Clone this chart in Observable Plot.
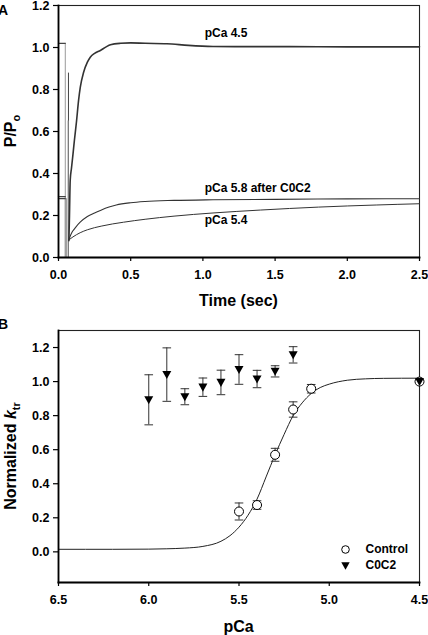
<!DOCTYPE html>
<html>
<head>
<meta charset="utf-8">
<script src="https://cdn.jsdelivr.net/npm/d3@7"></script>
<script src="https://cdn.jsdelivr.net/npm/@observablehq/plot@0.6"></script>
<style>
  html, body { margin: 0; padding: 0; background: #fff; }
  #chart svg { display: block; }
</style>
</head>
<body>
<div id="chart"></div>
<script>
// ---------- Panel A: force redevelopment traces ----------
const plateauTime = [0, 0.047];
const plateau45 = [1.02, 1.02];
const plateau58 = [0.29, 0.29];
const plateau54 = [0.28, 0.28];

const time45 = [0.072, 0.076, 0.081, 0.09, 0.1, 0.11, 0.125, 0.139, 0.151, 0.174, 0.2, 0.22, 0.25, 0.29, 0.33, 0.36, 0.43, 0.5, 0.6, 0.75, 0.9, 1.07, 1.3, 1.6, 2.0, 2.5];
const p45    = [0.08, 0.2, 0.367, 0.426, 0.49, 0.557, 0.65, 0.748, 0.811, 0.882, 0.93, 0.954, 0.972, 0.986, 1.003, 1.013, 1.02, 1.022, 1.02, 1.018, 1.01, 1.005, 1.004, 1.004, 1.003, 1.003];

const time58 = [0.072, 0.08, 0.09, 0.1, 0.12, 0.15, 0.2, 0.25, 0.29, 0.35, 0.4, 0.5, 0.6, 0.8, 1.07, 1.5, 2.0, 2.5];
const p58    = [0.084, 0.1, 0.115, 0.127, 0.145, 0.168, 0.195, 0.212, 0.224, 0.24, 0.25, 0.261, 0.267, 0.272, 0.275, 0.277, 0.279, 0.28];

const time54 = [0.072, 0.08, 0.1, 0.15, 0.2, 0.3, 0.45, 0.6, 0.8, 1.07, 1.4, 1.8, 2.2, 2.5];
const p54    = [0.084, 0.088, 0.098, 0.118, 0.132, 0.15, 0.168, 0.182, 0.197, 0.212, 0.226, 0.24, 0.25, 0.256];

// release (drop to zero) and re-stretch transients
const releaseTime = [0.047, 0.047, 0.056];
const releaseTop  = [1.02, 0.29, 0.28];
const spikeTime   = [0.069, 0.066];
const spikeTop    = [0.878, 0.65];

const traceLabels = ["pCa 4.5", "pCa 5.8 after C0C2", "pCa 5.4"];
const labelTime   = [1.012, 1.012, 1.012];
const labelP      = [1.066, 0.332, 0.178];

const xTicksA = [0, 0.5, 1.0, 1.5, 2.0, 2.5];
const yTicksA = [0, 0.2, 0.4, 0.6, 0.8, 1.0, 1.2];

// ---------- Panel B: normalized ktr vs pCa ----------
const pCaControl = [5.5, 5.4, 5.3, 5.2, 5.1, 4.5];
const ktrControl = [0.237, 0.275, 0.57, 0.836, 0.958, 1.0];
const semControl = [0.05, 0.025, 0.038, 0.045, 0.025, 0];

const pCaC0C2 = [6.0, 5.9, 5.8, 5.7, 5.6, 5.5, 5.4, 5.3, 5.2, 4.5];
const ktrC0C2 = [0.893, 1.041, 0.911, 0.967, 0.995, 1.071, 1.015, 1.06, 1.157, 1.0];
const semC0C2 = [0.147, 0.157, 0.047, 0.054, 0.072, 0.087, 0.051, 0.033, 0.048, 0];

const fitPCa = [6.5, 6.2, 6.0, 5.9, 5.8, 5.7, 5.6, 5.55, 5.5, 5.45, 5.4, 5.35, 5.3, 5.25, 5.2, 5.15, 5.1, 5.05, 5.0, 4.9, 4.8, 4.7, 4.5];
const fitKtr = [0.015, 0.015, 0.016, 0.018, 0.022, 0.032, 0.062, 0.095, 0.145, 0.215, 0.31, 0.44, 0.57, 0.69, 0.80, 0.875, 0.93, 0.965, 0.985, 1.008, 1.016, 1.019, 1.02];

const xTicksB = [6.5, 6.0, 5.5, 5.0, 4.5];
const yTicksB = [0, 0.2, 0.4, 0.6, 0.8, 1.0, 1.2];
const legendNames = ["Control", "C0C2"];

// ---------- helpers ----------
const FONT = "'Liberation Sans', Arial, Helvetica, sans-serif";
const baseStyle = {fontFamily: FONT, fontSize: "12.5px", fontWeight: "bold", color: "#000", background: "#fff", overflow: "visible"};
const fmt1 = d3.format(".1f");

const zipXY = (xs, ys) => xs.map((x, i) => ({x, y: ys[i]}));
const plateaus = [
  ...zipXY(plateauTime, plateau45).map(d => ({...d, k: "45"})),
  ...zipXY(plateauTime, plateau58).map(d => ({...d, k: "58"})),
  ...zipXY(plateauTime, plateau54).map(d => ({...d, k: "54"}))
];
const tr45 = zipXY(time45, p45);
const tr58 = zipXY(time58, p58);
const tr54 = zipXY(time54, p54);
const releases = releaseTime.map((t, i) => ({t, top: releaseTop[i]}));
const spikes = spikeTime.map((t, i) => ({t, top: spikeTop[i], c: i === 0 ? "#444" : "#aaa"}));
const labelsA = traceLabels.map((s, i) => ({s, x: labelTime[i], y: labelP[i]}));

const capSymbol = {
  draw(ctx, size) {
    const w = Math.sqrt(size / Math.PI);
    ctx.moveTo(-w, 0); ctx.lineTo(w, 0);
  }
};
const downTriangle = {
  draw(ctx, size) {
    const r = Math.sqrt(size / Math.PI);
    ctx.moveTo(-r, -0.8 * r);
    ctx.lineTo(r, -0.8 * r);
    ctx.lineTo(0, r);
    ctx.closePath();
  }
};

// ---------- Panel A ----------
const chartA = Plot.plot({
  width: 428, height: 310,
  marginTop: 5, marginRight: 9, marginBottom: 53, marginLeft: 58,
  style: baseStyle,
  x: {domain: [0, 2.5], label: null},
  y: {domain: [0, 1.2], label: null},
  marks: [
    Plot.frame({stroke: "#222", strokeWidth: 1.1}),
    Plot.ruleX(releases, {x: "t", y1: 0, y2: "top", stroke: "#9a9a9a", strokeWidth: 1}),
    Plot.ruleX(spikes, {x: "t", y1: 0, y2: "top", stroke: "c", strokeWidth: 1}),
    Plot.line(plateaus, {x: "x", y: "y", z: "k", stroke: "#444", strokeWidth: 1.2}),
    Plot.line(tr54, {x: "x", y: "y", stroke: "#333", strokeWidth: 1, curve: "monotone-x"}),
    Plot.line(tr58, {x: "x", y: "y", stroke: "#333", strokeWidth: 1.1, curve: "monotone-x"}),
    Plot.line(tr45, {x: "x", y: "y", stroke: "#333", strokeWidth: 1.6, curve: "monotone-x"}),
    Plot.text(labelsA, {x: "x", y: "y", text: "s", textAnchor: "start", lineAnchor: "middle", fontSize: 12, fill: "#000"}),
    Plot.axisX(xTicksA, {tickSize: 4, tickPadding: 9, tickFormat: fmt1, label: null, strokeWidth: 1.2}),
    Plot.axisY(yTicksA, {tickSize: 5, tickPadding: 4, tickFormat: fmt1, label: null, strokeWidth: 1.2}),
    Plot.frame({anchor: "left", stroke: "#000", strokeWidth: 1.8}),
    Plot.frame({anchor: "bottom", stroke: "#000", strokeWidth: 1.8})
  ]
});

// ---------- Panel B ----------
const ctrlRows = pCaControl.map((p, i) => ({p, k: ktrControl[i], e: semControl[i]}));
const c0c2Rows = pCaC0C2.map((p, i) => ({p, k: ktrC0C2[i], e: semC0C2[i]}));
const errRows = [...ctrlRows, ...c0c2Rows].filter(d => d.e > 0);
const capRows = errRows.flatMap(d => [{p: d.p, v: d.k + d.e}, {p: d.p, v: d.k - d.e}]);
const fitRows = zipXY(fitPCa, fitKtr);

const chartB = Plot.plot({
  width: 428, height: 325,
  marginTop: 20, marginRight: 9, marginBottom: 53, marginLeft: 58,
  style: baseStyle,
  x: {domain: [6.5, 4.5], label: null},
  y: {domain: [-0.18, 1.3], label: null},
  marks: [
    Plot.frame({stroke: "#222", strokeWidth: 1.1}),
    Plot.line(fitRows, {x: "x", y: "y", stroke: "#222", strokeWidth: 1, curve: "monotone-x"}),
    Plot.ruleX(errRows, {x: "p", y1: d => d.k - d.e, y2: d => d.k + d.e, stroke: "#333", strokeWidth: 1}),
    Plot.dot(capRows, {x: "p", y: "v", symbol: capSymbol, r: 4.3, stroke: "#333", strokeWidth: 1, fill: "none"}),
    Plot.dot(ctrlRows, {x: "p", y: "k", r: 4.5, stroke: "#000", strokeWidth: 1, fill: "#fff"}),
    Plot.dot(c0c2Rows, {x: "p", y: "k", symbol: downTriangle, r: 4.5, fill: "#000", stroke: "none"}),
    // legend
    Plot.dot([legendNames[0]], {frameAnchor: "bottom-right", dx: -74, dy: -33, r: 3.8, stroke: "#000", strokeWidth: 1, fill: "#fff"}),
    Plot.dot([legendNames[1]], {frameAnchor: "bottom-right", dx: -74, dy: -17, symbol: downTriangle, r: 4.2, fill: "#000", stroke: "none"}),
    Plot.text([legendNames[0]], {frameAnchor: "bottom-right", dx: -54, dy: -33, text: d => d, textAnchor: "start", lineAnchor: "middle", fontSize: 12, fill: "#000"}),
    Plot.text([legendNames[1]], {frameAnchor: "bottom-right", dx: -54, dy: -17, text: d => d, textAnchor: "start", lineAnchor: "middle", fontSize: 12, fill: "#000"}),
    Plot.axisX(xTicksB, {tickSize: 4, tickPadding: 9, tickFormat: fmt1, label: null, strokeWidth: 1.2}),
    Plot.axisY(yTicksB, {tickSize: 5, tickPadding: 4, tickFormat: fmt1, label: null, strokeWidth: 1.2}),
    Plot.frame({anchor: "left", stroke: "#000", strokeWidth: 1.8}),
    Plot.frame({anchor: "bottom", stroke: "#000", strokeWidth: 1.8})
  ]
});

// ---------- titles (real text with sub/italic) ----------
function addTitles(svgNode, letter, letterY, xTitle, xTitleY, yCenter, yParts) {
  const svg = d3.select(svgNode);
  const g = svg.append("g").attr("font-family", FONT).attr("font-weight", "bold").attr("fill", "#000");
  g.append("text").attr("x", 3).attr("y", letterY).attr("font-size", 14).text(letter);
  g.append("text").attr("x", 238.5).attr("y", xTitleY).attr("text-anchor", "middle").attr("font-size", 16).text(xTitle);
  const yt = g.append("text").attr("transform", `translate(16,${yCenter}) rotate(-90)`).attr("text-anchor", "middle").attr("font-size", 16);
  yParts(yt);
}

addTitles(chartA, "A", 15, "Time (sec)", 306, 131, t => {
  t.append("tspan").text("P/P");
  t.append("tspan").attr("font-size", 11).attr("dy", 4).text("o");
});
addTitles(chartB, "B", 19, "pCa", 322, 146, t => {
  t.append("tspan").text("Normalized ");
  t.append("tspan").attr("font-style", "italic").text("k");
  t.append("tspan").attr("font-size", 11).attr("dy", 4).text("tr");
});

document.getElementById("chart").append(chartA, chartB);
</script>
</body>
</html>
